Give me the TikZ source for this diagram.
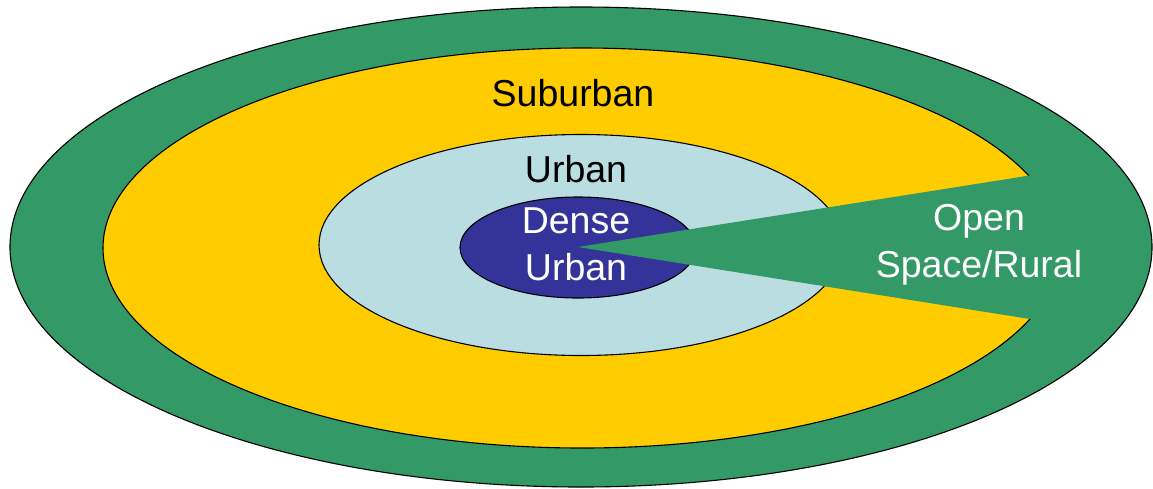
\documentclass[tikz,border=0pt]{standalone}
\usepackage{fontspec}
\setmainfont{Liberation Sans}
\definecolor{ringgreen}{HTML}{339966}
\definecolor{ringyellow}{HTML}{FFCC00}
\definecolor{ringlight}{HTML}{B9DDE0}
\definecolor{ringdark}{HTML}{333399}
\begin{document}
\begin{tikzpicture}[x=1pt,y=-1pt,
  ring/.style={draw=black,line width=1.1pt},
  lbl/.style={inner sep=0pt,align=center,font=\fontsize{37.5}{47}\selectfont}]
\useasboundingbox (0,0) rectangle (1153,488);
\path[ring,fill=ringgreen] (581,247) ellipse [x radius=571pt,y radius=240pt];
\path[ring,fill=ringyellow] (582,248) ellipse [x radius=479pt,y radius=200pt];
\path[ring,fill=ringlight] (581,245) ellipse [x radius=262pt,y radius=110.5pt];
\path[ring,fill=ringdark] (578,247.5) ellipse [x radius=118pt,y radius=50.5pt];
\fill[ringgreen] (578,247) -- (1080,167.5) -- (1080,327) -- cycle;
\node[lbl,anchor=base] (suburban) at (573,106) {Suburban};
\node[lbl,anchor=base] (urban) at (576,182) {Urban};
\node[lbl,text=white] (dense) at (576,244) {Dense\\Urban};
\node[lbl,text=white] (open) at (979,244.5) {Open\\Space/Rural};
\end{tikzpicture}
\end{document}
